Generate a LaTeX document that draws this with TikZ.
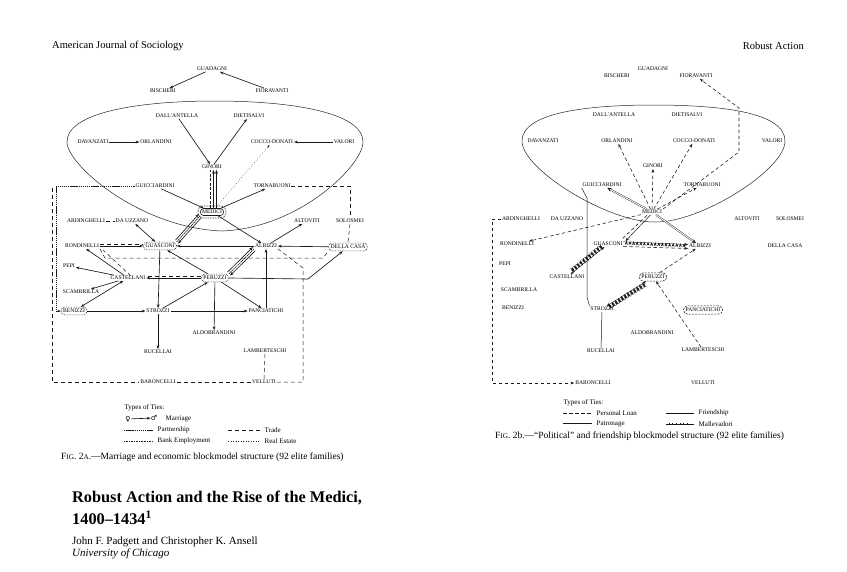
\documentclass[tikz,border=0pt]{standalone}
\usepackage{fontspec}
\setmainfont{Liberation Serif}
\newfontfamily\symfont{DejaVu Sans}
\usetikzlibrary{arrows.meta,decorations.markings}
\begin{document}
\begin{tikzpicture}[x=1pt,y=-1pt,
  every node/.style={text=black},
  lbl/.style={font=\fontsize{5.6}{6}\selectfont, inner sep=0.8pt},
  wlbl/.style={lbl, fill=white},
  ovd/.style={lbl, draw=black!90, densely dotted, rounded corners=3.5pt, inner sep=2pt, line width=0.65pt},
  ovdash/.style={lbl, draw=black!90, dash pattern=on 2pt off 1.2pt, rounded corners=4pt, inner sep=2.2pt, line width=0.55pt},
  ar/.style={draw=black!90, arrows={-Stealth[length=3.8pt,width=2.8pt]}, line width=0.65pt},
  ab/.style={draw=black!90, arrows={Stealth[length=3.8pt,width=2.8pt]-Stealth[length=3.8pt,width=2.8pt]}, line width=0.65pt},
  tr/.style={draw=black!90, dash pattern=on 4pt off 3pt, line width=0.5pt},
  ptn/.style={draw=black!90, dash pattern=on 1.4pt off 0.7pt, line width=0.65pt},
  bk/.style={draw=black!90, densely dotted, line width=0.65pt},
  rle/.style={draw=black!85, dotted, line width=0.5pt},
  ln/.style={draw=black!90, dash pattern=on 3.5pt off 2.5pt, line width=0.55pt},
  lnar/.style={ln, arrows={-Stealth[length=3.8pt,width=2.8pt]}},
  patar/.style={draw=black!90, double, double distance=0.9pt, line width=0.4pt, arrows={-Stealth[length=4.2pt,width=3.8pt]}},
  fr/.style={draw=black!90, line width=0.5pt},
  frar/.style={fr, arrows={-Stealth[length=3.8pt,width=2.8pt]}},
  malbase/.style={draw=black!90, line width=0.45pt, postaction={decorate, decoration={markings, mark=between positions 3pt and -4pt step 3.6pt with {\draw[line width=0.35pt] (0,-0.9pt) -- (0,0.9pt);}}}},
  malar/.style={malbase, arrows={-Stealth[length=3.8pt,width=2.8pt]}},
  malab/.style={malbase, arrows={Stealth[length=3.8pt,width=2.8pt]-Stealth[length=3.8pt,width=2.8pt]}},
  leg/.style={font=\fontsize{7}{8}\selectfont, inner sep=0.5pt, anchor=west},
  capt/.style={font=\fontsize{9.5}{11}\selectfont, inner sep=0pt, anchor=west},
  hdr/.style={font=\fontsize{10.5}{12}\selectfont, inner sep=0pt}
]
\useasboundingbox (0,0) rectangle (847,571);
\fill[white] (0,0) rectangle (847,571);

% ---------- headers ----------
\node[hdr, anchor=west] (hL) at (52,46) {American Journal of Sociology};
\node[hdr, anchor=east] (hR) at (804,46) {Robust Action};

% ================= FIGURE 2a =================
\draw[line width=0.5pt, black!85] (222,231) .. controls (140,228) and (67,165) .. (67,142)
  .. controls (67,112) and (140,101) .. (215,101)
  .. controls (290,101) and (363,112) .. (363,142)
  .. controls (363,165) and (300,228) .. (222,231);

\node[lbl] (aGUA) at (212,69) {GUADAGNI};
\node[lbl] (aBIS) at (163,91) {BISCHERI};
\node[lbl] (aFIO) at (272,91) {FIORAVANTI};
\node[lbl] (aDAL) at (177,116) {DALL'ANTELLA};
\node[lbl] (aDIE) at (249,116) {DIETISALVI};
\node[lbl] (aDAV) at (93,142) {DAVANZATI};
\node[lbl] (aORL) at (156,142) {ORLANDINI};
\node[lbl] (aCOC) at (272,142) {COCCO-DONATI};
\node[lbl] (aVAL) at (344,142) {VALORI};
\node[lbl] (aGIN) at (212,167) {GINORI};
\node[lbl] (aGUI) at (155,186) {GUICCIARDINI};
\node[lbl] (aTOR) at (272,186) {TORNABUONI};
\node[lbl, draw=black!90, rounded corners=3pt, inner sep=1.6pt, line width=0.55pt, fill=white] (aMED) at (212,212) {MEDICI};
\draw[densely dotted, line width=0.65pt, rounded corners=5pt] ([shift={(-2.2,-2.2)}]aMED.north west) rectangle ([shift={(2.2,2.2)}]aMED.south east);
\node[lbl] (aARD) at (86,221) {ARDINGHELLI};
\node[lbl] (aDAU) at (132,221) {DA UZZANO};
\node[lbl] (aALT) at (307,221) {ALTOVITI};
\node[wlbl] (aSOL) at (350,221) {SOLOSMEI};
\node[lbl] (aRON) at (82,246) {RONDINELLI};
\node[ovd, fill=white] (aGUS) at (160,246) {GUASCONI};
\node[lbl] (aALB) at (266,246) {ALBIZZI};
\node[ovd, fill=white] (aDEL) at (348,247) {DELLA CASA};
\node[lbl] (aPEP) at (69,266) {PEPI};
\node[lbl] (aCAS) at (128,278) {CASTELLANI};
\node[ovd, fill=white] (aPER) at (215,278) {PERUZZI};
\node[lbl] (aSCA) at (81,292) {SCAMBRILLA};
\node[ovd, fill=white] (aBEN) at (74,311) {BENIZZI};
\node[lbl] (aSTR) at (158,311) {STROZZI};
\node[lbl] (aPAN) at (266,311) {PANCIATICHI};
\node[lbl] (aALD) at (214,333) {ALDOBRANDINI};
\node[lbl] (aRUC) at (158,352) {RUCELLAI};
\node[lbl] (aLAM) at (265,351) {LAMBERTESCHI};
\node[wlbl] (aBAR) at (158,382) {BARONCELLI};
\node[wlbl] (aVEL) at (264,382) {VELLUTI};

% marriage and economic ties
\draw[ar] (aFIO) -- (aGUA);
\draw[ar] (aGUA) -- (aBIS);
\draw[ar] (aDAV) -- (aORL);
\draw[ar] (aDAL) -- (aGIN);
\draw[ar] (aGIN) -- (aDIE);
\draw[ar] (aVAL) -- (aCOC);
\draw[rle, arrows={-Stealth[length=3pt,width=2.2pt]}] (aMED) -- (aCOC);
\draw[ar] ([xshift=1.5]aMED.north) -- ([xshift=1.5]aGIN.south);
\draw[ar] ([xshift=4.5]aMED.north) -- ([xshift=4.5]aGIN.south);
\draw[tr, dash pattern=on 3pt off 1.5pt] ([xshift=-2]aMED.north) -- ([xshift=-2]aGIN.south);
\draw[ar] (aGUI) -- (aMED);
\draw[ar] (aMED) -- (aTOR);
\draw[ar] ([shift={(-1.2,-1.8)}]aGUS.north east) -- ([shift={(-1.2,-1.8)}]aMED.south west);
\draw[ar] ([shift={(1.2,1.8)}]aMED.south west) -- ([shift={(1.2,1.8)}]aGUS.north east);
\draw[ptn] (aGUS.north east) -- (aMED.south west);
\draw[ar] (aMED) -- (aALB);
\draw[tr] (aARD) -- (aDAU);
\draw[ab] (aDAU) -- (aGUS);
\draw[ar] (aRON) -- (aGUS);
\draw[tr] ([yshift=1.6]aRON.east) -- ([yshift=1.6]aGUS.west);
\draw[ar] (aALB) -- (aGUS);
\draw[ar] (aDEL) -- (aALB);
\draw[ar] (aALB) -- (aALT);
\draw[ar] ([shift={(-1.2,-1.8)}]aPER.north east) -- ([shift={(-1.2,-1.8)}]aALB.south west);
\draw[ar] ([shift={(1.2,1.8)}]aALB.south west) -- ([shift={(1.2,1.8)}]aPER.north east);
\draw[ptn] (aPER.north east) -- (aALB.south west);
\draw[ar] (aPER) -- (aGUS);
\draw[ar] (aPER) -- (aCAS);
\draw[tr] ([yshift=1.8]aPER.west) -- ([yshift=1.8]aCAS.east);
\draw[ar] (aPER.east) -- (308,279) -- (aDEL);
\draw[ar] (aCAS) -- (aRON);
\draw[tr] ([shift={(3,1)}]aCAS.north) -- ([shift={(3,1)}]aRON.south east);
\draw[ar] (aCAS) -- (aPEP);
\draw[ar] (aCAS) -- (aSCA);
\draw[ab] (aCAS) -- (aBEN);
\draw[ar] (aBEN) -- (aSTR);
\draw[ar] (aSTR) -- (aPAN);
\draw[ar] (aSTR) -- (aPER);
\draw[ar] (aGUS) -- (aSTR);
\draw[ar] (aSTR) -- (aRUC);
\draw[ar] (aPER) -- (aALD);
\draw[ar] (aPER) -- (aPAN);
\draw[ar] (aPAN) -- (aALB);
% partnership / trade routed lines
\draw[ptn, arrows={-Stealth[length=3pt,width=2.4pt]}] (aGUI.west) -- (56,186) -- (56,311) -- (aBEN.west);
\draw[tr] (52,188) -- (52,382) -- (aBAR.west);
\draw[tr] (aBAR.east) -- (aVEL.west);
\draw[tr] (aVEL.east) -- (303,382) -- (303,268) -- (aALB.south east);
\draw[tr] (aTOR.east) -- (350,186) -- (aSOL.north);
\draw[tr] (aSOL.south) -- (aDEL.north);
\draw[tr] (aRON.south east) -- (105,258) -- (323,258) -- (aDEL.south west);
\draw[tr] (aLAM) -- (aVEL);

% legend 2a
\node[leg] (aTyp) at (124,408) {Types of Ties:};
\node[inner sep=0pt, font=\symfont\fontsize{7}{8}\selectfont] (aFem) at (128,419) {♀};
\node[inner sep=0pt, font=\symfont\fontsize{7}{8}\selectfont] (aMal) at (154,418) {♂};
\draw[ar] (aFem) -- (aMal);
\node[leg] (aMarr) at (165,419) {Marriage};
\draw[ptn] (124,430) -- (153,430);
\node[leg] (aPart) at (157,430) {Partnership};
\draw[bk] (124,441) -- (153,441);
\node[leg] (aBank) at (157,441) {Bank Employment};
\draw[tr] (228,430) -- (260,430);
\node[leg] (aTrade) at (264,430) {Trade};
\draw[rle] (228,441) -- (260,441);
\node[leg] (aReal) at (264,441) {Real Estate};
\node[capt] (aCap) at (61,457) {F{\fontsize{7.2}{8}\selectfont IG}. 2{\fontsize{7.2}{8}\selectfont A}.---Marriage and economic blockmodel structure (92 elite families)};

% title
\node[anchor=west, inner sep=0pt, font=\bfseries\fontsize{16.3}{18}\selectfont] (tT1) at (72,498) {Robust Action and the Rise of the Medici,};
\node[anchor=west, inner sep=0pt, font=\bfseries\fontsize{16.3}{18}\selectfont] (tT2) at (72,518) {1400--1434\textsuperscript{1}};
\node[anchor=west, inner sep=0pt, font=\fontsize{11}{12}\selectfont] (tA) at (72,542) {John F. Padgett and Christopher K. Ansell};
\node[anchor=west, inner sep=0pt, font=\itshape\fontsize{11}{12}\selectfont] (tU) at (72,554) {University of Chicago};

% ================= FIGURE 2b =================
\draw[line width=0.5pt, black!85] (655,222) .. controls (610,223) and (522,170) .. (522,141)
  .. controls (522,112) and (590,105) .. (653,105)
  .. controls (720,105) and (785,112) .. (785,141)
  .. controls (785,170) and (700,223) .. (655,222);

\node[lbl] (bGUA) at (653,69) {GUADAGNI};
\node[lbl] (bBIS) at (617,76) {BISCHERI};
\node[lbl] (bFIO) at (696,76) {FIORAVANTI};
\node[lbl] (bDAL) at (614,115) {DALL'ANTELLA};
\node[lbl] (bDIE) at (687,115) {DIETISALVI};
\node[lbl] (bDAV) at (543,141) {DAVANZATI};
\node[lbl] (bORL) at (617,141) {ORLANDINI};
\node[lbl] (bCOC) at (694,141) {COCCO-DONATI};
\node[lbl] (bVAL) at (772,141) {VALORI};
\node[lbl] (bGIN) at (653,166) {GINORI};
\node[lbl] (bGUI) at (602,185) {GUICCIARDINI};
\node[lbl] (bTOR) at (702,185) {TORNABUONI};
\node[wlbl] (bMED) at (652,212) {MEDICI};
\node[lbl] (bARD) at (521,219) {ARDINGHELLI};
\node[lbl] (bDAU) at (567,219) {DA UZZANO};
\node[lbl] (bALT) at (747,219) {ALTOVITI};
\node[lbl] (bSOL) at (790,219) {SOLOSMEI};
\node[lbl] (bRON) at (517,244) {RONDINELLI};
\node[lbl] (bGUS) at (608,244) {GUASCONI};
\node[lbl] (bALB) at (700,246) {ALBIZZI};
\node[lbl] (bDEL) at (785,246) {DELLA CASA};
\node[lbl] (bPEP) at (505,264) {PEPI};
\node[lbl] (bCAS) at (567,277) {CASTELLANI};
\node[ovdash] (bPER) at (653,277) {PERUZZI};
\node[lbl] (bSCA) at (519,290) {SCAMBRILLA};
\node[lbl] (bBEN) at (513,308) {BENIZZI};
\node[lbl] (bSTR) at (602,309) {STROZZI};
\node[ovdash] (bPAN) at (703,310) {PANCIATICHI};
\node[lbl] (bALD) at (652,333) {ALDOBRANDINI};
\node[lbl] (bRUC) at (601,351) {RUCELLAI};
\node[lbl] (bLAM) at (703,350) {LAMBERTESCHI};
\node[lbl] (bBAR) at (593,383) {BARONCELLI};
\node[lbl] (bVEL) at (703,383) {VELLUTI};

\draw[lnar] (bMED) -- (bORL);
\draw[lnar] (bMED) -- (bGIN);
\draw[lnar] (bMED) -- (bCOC);
\draw[lnar] (bMED) -- (bTOR);
\draw[lnar] (bMED) -- (bRON);
\draw[lnar] (bMED.north east) -- (739,152) -- (739,108) -- (bFIO);
\draw[patar] (bMED) -- (bGUI);
\draw[patar] (bMED) -- (bALB);
\draw[frar] ([xshift=-1.5]bMED.south) -- ([xshift=2]bGUS.north east);
\draw[ln] ([shift={(-5,0.5)}]bMED.south) -- ([shift={(-1,-2.5)}]bGUS.north east);
\draw[fr] (bGUI.south west) -- (587,198) -- (587,297) -- (bSTR.north west);
\draw[fr] (bSTR) -- (bRUC);
\draw[malar] ([yshift=2.2]bGUS.east) -- ([yshift=1.5]bALB.west);
\draw[lnar] ([yshift=-2.5]bGUS.east) -- ([yshift=-2.5]bALB.west);
\draw[malab] (bGUS) -- (bCAS);
\draw[malab] (bSTR) -- (bPER);
\draw[lnar] (bPER) -- (bALB);
\draw[lnar] (bLAM) -- (bPER);
\draw[lnar] (bARD.west) -- (492,219) -- (492,383) -- (bBAR.west);

% legend 2b
\node[leg] (bTyp) at (563,403) {Types of Ties:};
\draw[ln] (563,413) -- (592,413);
\node[leg] (bLoan) at (596,413) {Personal Loan};
\draw[draw=black!90, double, double distance=0.9pt, line width=0.4pt] (563,424) -- (592,424);
\node[leg] (bPat) at (596,424) {Patronage};
\draw[fr] (666,413) -- (694,413);
\node[leg] (bFr) at (698,413) {Friendship};
\draw[malbase] (666,424) -- (694,424);
\node[leg] (bMl) at (698,424) {Mallevadori};
\node[capt] (bCap) at (495,436) {F{\fontsize{7.2}{8}\selectfont IG}. 2b.---``Political'' and friendship blockmodel structure (92 elite families)};
\end{tikzpicture}
\end{document}
